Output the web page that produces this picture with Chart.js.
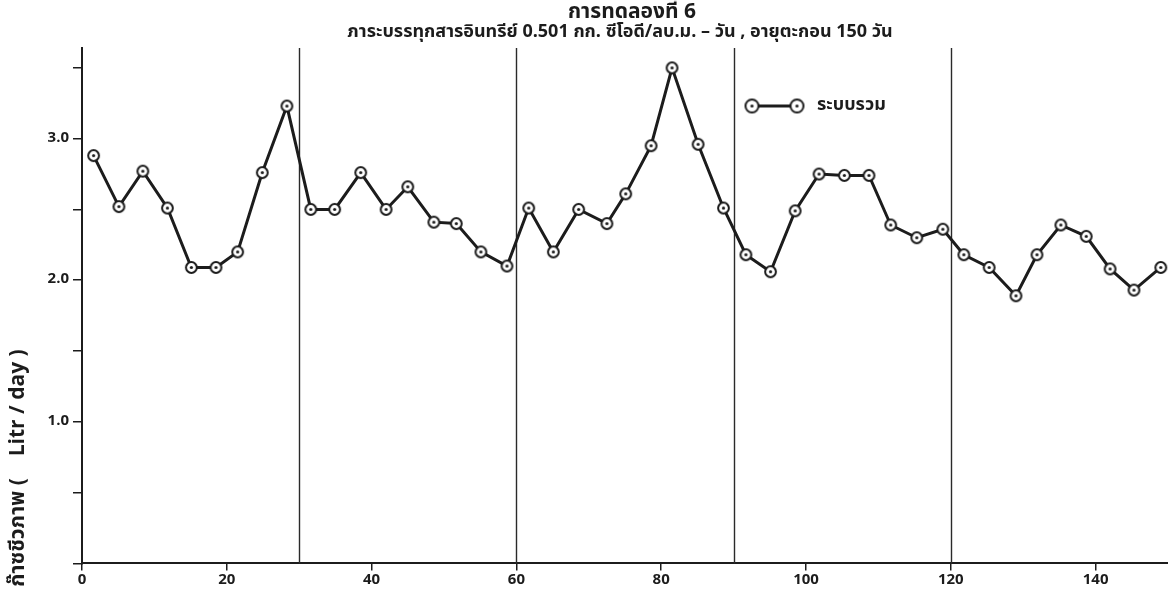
<!DOCTYPE html>
<html lang="th">
<head>
<meta charset="utf-8">
<title>การทดลองที่ 6</title>
<script src="https://cdn.jsdelivr.net/npm/chart.js@4/dist/chart.umd.min.js"></script>
<style>
  html, body { margin: 0; padding: 0; background: #ffffff; }
  #wrap { width: 1168px; height: 590px; position: relative; }
</style>
</head>
<body>
<div id="wrap"><canvas id="chart" width="1168" height="590"></canvas></div>
<script>
// Sampling day of each measurement (days of operation)
const days = [
  1.6, 5.1, 8.4, 11.8, 15.1, 18.5, 21.5, 24.9, 28.3,
  31.6, 34.9, 38.5, 42.0, 45.0, 48.6, 51.7, 55.1, 58.7,
  61.7, 65.1, 68.6, 72.5, 75.1, 78.6, 81.5, 85.1, 88.6,
  91.7, 95.1, 98.5, 101.8, 105.3, 108.7, 111.7, 115.3, 118.9,
  121.8, 125.3, 129.0, 131.9, 135.2, 138.7, 142.0, 145.3, 149.0
];
// Biogas production of the combined system (litre / day)
const biogas = [
  2.88, 2.52, 2.77, 2.51, 2.09, 2.09, 2.20, 2.76, 3.23,
  2.50, 2.50, 2.76, 2.50, 2.66, 2.41, 2.40, 2.20, 2.10,
  2.51, 2.20, 2.50, 2.40, 2.61, 2.95, 3.50, 2.96, 2.51,
  2.18, 2.06, 2.49, 2.75, 2.74, 2.74, 2.39, 2.30, 2.36,
  2.18, 2.09, 1.89, 2.18, 2.39, 2.31, 2.08, 1.93, 2.09
];
const seriesName = 'ระบบรวม';
const xTicks = [0, 20, 40, 60, 80, 100, 120, 140];
const yTicks = [0, 0.5, 1.0, 1.5, 2.0, 2.5, 3.0, 3.5];
const yLabelled = [1.0, 2.0, 3.0];
const periodBreaks = [30, 60, 90, 120];
const titleText = 'การทดลองที่ 6';
const subtitleText = 'ภาระบรรทุกสารอินทรีย์ 0.501 กก. ซีโอดี/ลบ.ม. – วัน , อายุตะกอน 150 วัน';
const yTitleText = 'ก๊าซชีวภาพ (    Litr / day )';

const INK = '#1c1c1c';
const FONT = "'Noto Sans Thai', 'Noto Sans', 'DejaVu Sans', sans-serif";

// Ring marker with a centre dot
function makeMarker(r) {
  const s = Math.ceil(r * 2 + 4);
  const c = document.createElement('canvas');
  c.width = s; c.height = s;
  const g = c.getContext('2d');
  g.beginPath();
  g.arc(s / 2, s / 2, r, 0, Math.PI * 2);
  g.fillStyle = '#ffffff';
  g.fill();
  g.lineWidth = 2;
  g.strokeStyle = INK;
  g.stroke();
  g.beginPath();
  g.arc(s / 2, s / 2, 1.6, 0, Math.PI * 2);
  g.fillStyle = INK;
  g.fill();
  return c;
}
const marker = makeMarker(5.4);

// Vertical period separators, titles, rotated axis title and legend
const decorations = {
  id: 'decorations',
  beforeDatasetsDraw(chart) {
    const { ctx, chartArea: a, scales: { x } } = chart;
    ctx.save();
    ctx.strokeStyle = '#2a2a2a';
    ctx.lineWidth = 1.4;
    periodBreaks.forEach(v => {
      const px = Math.round(x.getPixelForValue(v)) + 0.5;
      ctx.beginPath();
      ctx.moveTo(px, a.top);
      ctx.lineTo(px, a.bottom);
      ctx.stroke();
    });
    ctx.restore();
  },
  afterDraw(chart) {
    const { ctx } = chart;
    ctx.save();
    ctx.fillStyle = INK;
    ctx.textAlign = 'center';
    ctx.textBaseline = 'middle';
    ctx.font = 'bold 21px ' + FONT;
    ctx.fillText(titleText, 632, 14);
    ctx.font = 'bold 18px ' + FONT;
    ctx.fillText(subtitleText, 620, 33);

    // rotated y-axis title
    ctx.save();
    ctx.translate(20, 468);
    ctx.rotate(-Math.PI / 2);
    ctx.font = 'bold 21px ' + FONT;
    ctx.fillText(yTitleText, 0, 0);
    ctx.restore();

    // legend
    const ly = 106, lx1 = 752, lx2 = 797;
    ctx.strokeStyle = INK;
    ctx.lineWidth = 3;
    ctx.beginPath();
    ctx.moveTo(lx1, ly);
    ctx.lineTo(lx2, ly);
    ctx.stroke();
    const big = makeMarker(6.5);
    [lx1, lx2].forEach(cx => ctx.drawImage(big, cx - big.width / 2, ly - big.height / 2));
    ctx.textAlign = 'left';
    ctx.font = 'bold 18px ' + FONT;
    ctx.fillText(seriesName, 817, ly);
    ctx.restore();
  }
};

new Chart(document.getElementById('chart'), {
  type: 'line',
  data: {
    datasets: [{
      label: seriesName,
      data: days.map((d, i) => ({ x: d, y: biogas[i] })),
      borderColor: INK,
      borderWidth: 3,
      tension: 0,
      pointStyle: marker,
      pointRadius: 6,
      pointHoverRadius: 6
    }]
  },
  options: {
    responsive: false,
    animation: false,
    layout: { autoPadding: false, padding: { top: 48, right: 0, bottom: 0, left: 0 } },
    plugins: {
      legend: { display: false },
      title: { display: false },
      tooltip: { enabled: false }
    },
    scales: {
      x: {
        type: 'linear',
        min: 0,
        max: 150,
        afterBuildTicks: s => { s.ticks = xTicks.map(v => ({ value: v })); },
        afterFit: s => { s.height = 26.6; s.paddingLeft = 0; s.paddingRight = 0; },
        grid: { display: true, drawOnChartArea: false, drawTicks: true, tickLength: 7, color: INK, lineWidth: 1.5 },
        border: { display: true, color: INK, width: 2 },
        ticks: {
          color: INK,
          padding: 2,
          maxRotation: 0,
          font: { family: FONT, size: 15, weight: 'bold' },
          callback: v => String(v)
        }
      },
      y: {
        type: 'linear',
        min: 0,
        max: 3.64,
        afterBuildTicks: s => { s.ticks = yTicks.map(v => ({ value: v })); },
        afterFit: s => { s.width = 82; s.paddingTop = 0; s.paddingBottom = 0; },
        grid: { display: true, drawOnChartArea: false, drawTicks: true, tickLength: 9, color: INK, lineWidth: 1.5 },
        border: { display: true, color: INK, width: 2 },
        ticks: {
          color: INK,
          padding: 4,
          font: { family: FONT, size: 15, weight: 'bold' },
          callback: v => yLabelled.some(t => Math.abs(t - v) < 1e-6) ? v.toFixed(1) : ''
        }
      }
    }
  },
  plugins: [decorations]
});
</script>
</body>
</html>
